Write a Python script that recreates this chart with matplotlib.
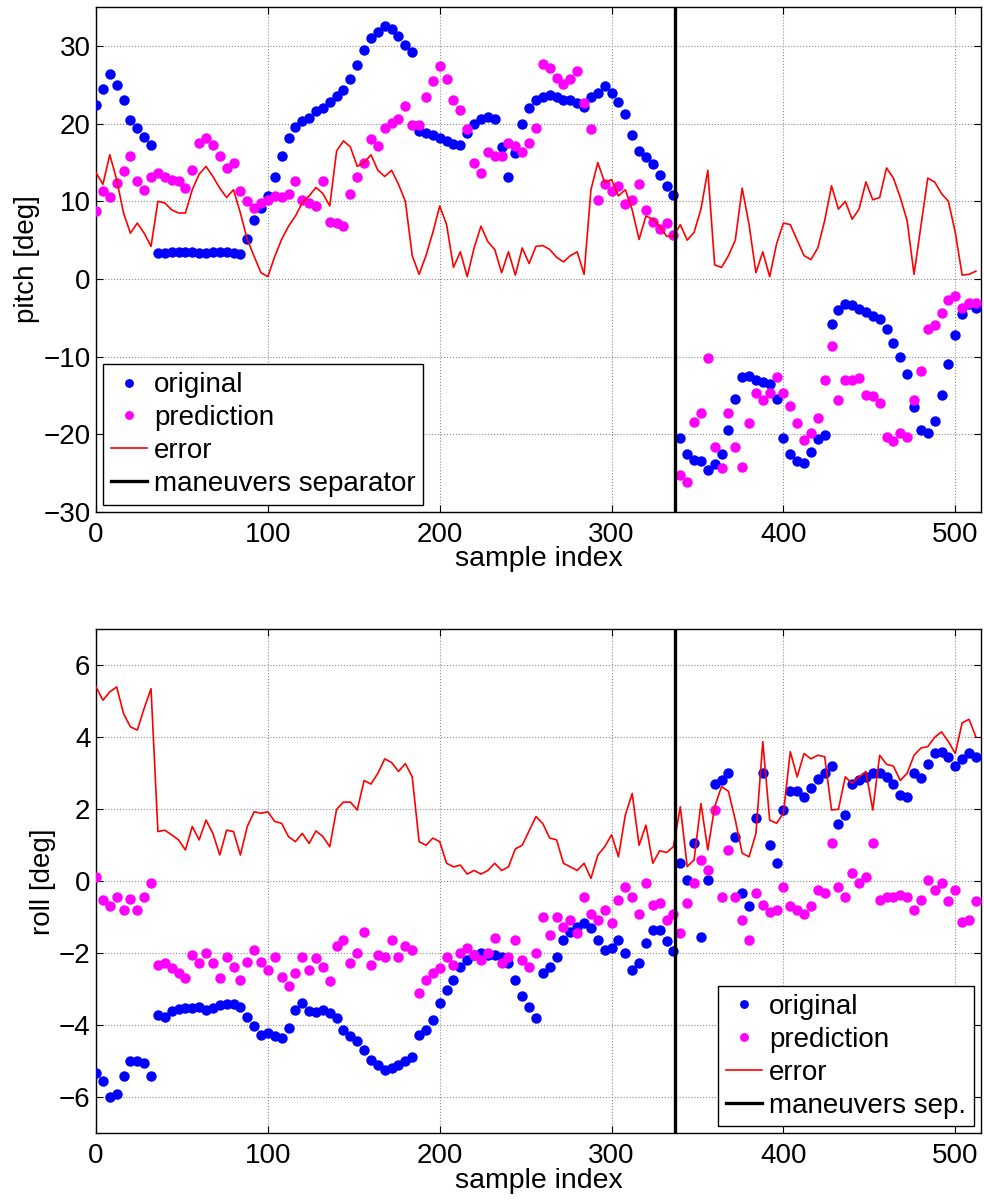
import matplotlib
matplotlib.use('Agg')
import matplotlib.pyplot as plt
import numpy as np

plt.rcParams['font.family'] = ['Liberation Sans', 'DejaVu Sans']

# sample index (every 4th sample)
sample_idx = np.arange(0, 513, 4)
separator = 337

pitch_original = [
    22.4, 24.5, 26.4, 25.0, 23.1, 20.5, 19.4, 18.3, 17.2, 3.3,
    3.4, 3.5, 3.5, 3.5, 3.5, 3.4, 3.4, 3.5, 3.5, 3.5,
    3.4, 3.2, 5.2, 7.6, 9.2, 10.7, 13.2, 15.9, 18.2, 19.6,
    20.3, 20.8, 21.6, 22.0, 22.8, 23.6, 24.4, 25.8, 27.6, 29.5,
    31.0, 31.8, 32.6, 32.2, 31.3, 30.2, 29.3, 19.1, 18.8, 18.5,
    18.2, 17.8, 17.4, 17.3, 18.8, 20.0, 20.6, 20.9, 20.6, 17.0,
    13.2, 16.2, 20.0, 22.0, 23.0, 23.4, 23.7, 23.5, 23.1, 23.0,
    22.7, 22.2, 23.4, 24.0, 24.8, 24.0, 22.8, 21.2, 18.5, 16.5,
    15.7, 14.8, 13.4, 12.0, 10.8, -20.5, -22.6, -23.3, -23.4, -24.6,
    -23.8, -22.5, -19.5, -15.5, -12.6, -12.5, -13.0, -13.3, -13.5, -15.5,
    -20.5, -22.5, -23.5, -23.7, -22.3, -20.6, -20.1, -5.8, -4.0, -3.2,
    -3.4, -3.9, -4.3, -4.8, -5.2, -6.5, -8.3, -10.0, -12.2, -16.5,
    -19.5, -19.8, -18.3, -15.0, -11.0, -7.2, -4.5, -3.2, -3.8,
]

pitch_prediction = [
    8.7, 11.3, 10.5, 12.4, 13.9, 15.8, 12.6, 11.5, 13.2, 13.7,
    13.2, 12.8, 12.6, 11.7, 14.1, 17.5, 18.2, 17.3, 15.8, 14.3,
    15.0, 11.3, 10.0, 9.2, 9.8, 10.2, 10.7, 10.5, 10.9, 12.6,
    10.2, 9.8, 9.4, 12.6, 7.4, 7.2, 6.8, 10.9, 13.2, 15.0,
    18.0, 17.1, 19.5, 20.1, 20.6, 22.3, 19.9, 19.9, 23.4, 25.5,
    27.4, 25.7, 23.1, 21.8, 19.3, 15.0, 13.7, 16.3, 15.8, 15.8,
    17.5, 17.1, 16.3, 17.5, 19.5, 27.7, 27.2, 25.9, 25.1, 25.7,
    26.8, 22.7, 19.3, 10.2, 12.2, 11.3, 12.0, 9.6, 10.2, 12.2,
    8.9, 7.4, 6.4, 7.2, 5.7, -25.2, -26.1, -18.4, -17.3, -10.2,
    -21.6, -24.4, -17.3, -21.6, -24.2, -18.6, -14.7, -15.6, -14.7, -12.6,
    -14.7, -16.4, -18.6, -20.7, -19.9, -17.9, -13.0, -8.7, -15.6, -13.0,
    -13.0, -12.8, -14.9, -15.1, -16.0, -20.3, -20.9, -19.9, -20.3, -15.6,
    -11.9, -6.5, -5.9, -4.4, -2.7, -2.2, -3.7, -3.1, -3.1,
]

pitch_error = [
    13.7, 12.2, 16.0, 12.8, 8.5, 5.9, 7.2, 5.9, 4.2, 10.0,
    9.8, 8.9, 8.5, 8.5, 11.5, 13.5, 14.5, 13.2, 11.7, 10.5,
    11.5, 8.5, 5.1, 2.9, 0.8, 0.3, 2.9, 5.1, 6.8, 8.1,
    9.8, 10.7, 11.8, 11.0, 9.4, 16.5, 17.8, 17.0, 14.5, 15.0,
    16.0, 14.0, 13.2, 14.0, 12.2, 10.0, 3.0, 0.6, 3.0, 6.0,
    9.4, 7.0, 1.5, 3.5, 0.3, 4.0, 6.8, 4.8, 3.8, 0.8,
    3.5, 0.5, 4.0, 2.0, 4.2, 4.3, 3.8, 2.8, 2.2, 3.0,
    3.5, 0.6, 11.5, 15.0, 12.4, 12.8, 10.7, 11.5, 8.9, 5.1,
    8.1, 7.7, 6.8, 5.5, 5.5, 7.0, 5.0, 6.0, 9.0, 14.0,
    1.8, 1.5, 3.0, 5.0, 11.7, 7.0, 0.8, 3.5, 0.3, 4.5,
    7.2, 7.0, 5.0, 3.0, 2.5, 4.0, 7.5, 12.0, 9.0, 10.0,
    7.7, 9.0, 12.5, 10.2, 10.5, 14.3, 13.0, 10.5, 7.5, 0.6,
    6.8, 13.0, 12.5, 11.0, 10.0, 6.0, 0.5, 0.6, 1.0,
]

roll_original = [
    -5.33, -5.56, -6.0, -5.9, -5.4, -5.0, -5.0, -5.05, -5.4, -3.72,
    -3.76, -3.6, -3.54, -3.52, -3.52, -3.48, -3.58, -3.52, -3.43, -3.4,
    -3.4, -3.48, -3.76, -4.03, -4.26, -4.22, -4.31, -4.36, -4.08, -3.57,
    -3.39, -3.6, -3.62, -3.57, -3.66, -3.8, -4.13, -4.31, -4.45, -4.68,
    -4.96, -5.1, -5.24, -5.19, -5.1, -5.0, -4.87, -4.26, -4.13, -3.85,
    -3.39, -3.02, -2.74, -2.37, -2.18, -2.04, -2.0, -2.04, -2.04, -2.09,
    -2.28, -2.74, -3.2, -3.48, -3.8, -2.55, -2.37, -2.09, -1.63, -1.4,
    -1.26, -1.17, -1.3, -1.63, -1.9, -1.86, -1.63, -2.0, -2.46, -2.28,
    -1.72, -1.35, -1.35, -1.67, -1.95, 0.5, 0.04, 1.05, -1.54, 0.04,
    2.7, 2.8, 3.0, 1.24, -0.33, -0.7, 1.75, 3.0, 1.0, 0.5,
    1.98, 2.5, 2.5, 2.35, 2.6, 2.85, 3.0, 3.2, 1.6, 1.84,
    2.7, 2.81, 2.9, 3.0, 3.0, 2.9, 2.7, 2.4, 2.35, 3.0,
    2.86, 3.27, 3.55, 3.6, 3.46, 3.2, 3.4, 3.55, 3.46,
]

roll_prediction = [
    0.13, -0.52, -0.7, -0.43, -0.8, -0.5, -0.8, -0.43, -0.06, -2.32,
    -2.28, -2.41, -2.55, -2.69, -2.04, -2.28, -2.0, -2.28, -2.69, -2.09,
    -2.37, -2.74, -2.23, -1.9, -2.23, -2.46, -2.09, -2.65, -2.92, -2.55,
    -2.09, -2.46, -2.14, -2.37, -2.78, -1.81, -1.63, -2.28, -2.0, -1.4,
    -2.32, -2.04, -2.09, -1.63, -2.09, -1.81, -1.9, -3.1, -2.74, -2.55,
    -2.41, -2.09, -2.32, -2.0, -1.86, -2.04, -2.18, -2.0, -1.58, -2.28,
    -2.09, -1.63, -2.18, -2.37, -2.0, -0.98, -1.49, -0.98, -1.26, -1.07,
    -1.44, -0.43, -0.9, -1.07, -0.8, -1.17, -0.52, -0.15, -0.43, -0.9,
    -0.06, -0.66, -0.61, -1.07, -0.9, -1.44, -0.61, -0.06, 0.59, 0.31,
    1.98, -0.43, 0.87, -0.43, -1.07, -1.63, -0.33, -0.66, -0.84, -0.8,
    -0.15, -0.7, -0.8, -0.9, -0.7, -0.24, -0.33, 1.05, -0.15, -0.43,
    0.22, -0.06, 0.13, 1.05, -0.52, -0.43, -0.43, -0.38, -0.43, -0.8,
    -0.52, 0.04, -0.24, -0.06, -0.56, -0.24, -1.12, -1.07, -0.56,
]

roll_error = [
    5.4, 5.03, 5.26, 5.4, 4.66, 4.29, 4.2, 4.8, 5.35, 1.38,
    1.42, 1.29, 1.15, 0.87, 1.52, 1.15, 1.7, 1.33, 0.73, 1.42,
    1.38, 0.73, 1.52, 1.93, 1.89, 1.93, 1.66, 1.61, 1.24, 1.1,
    1.33, 1.05, 1.4, 1.24, 0.96, 2.0, 2.2, 2.2, 1.98, 2.8,
    2.7, 3.0, 3.4, 3.3, 3.05, 3.27, 2.9, 1.1, 1.0, 1.2,
    1.1, 0.5, 0.4, 0.45, 0.2, 0.3, 0.2, 0.3, 0.5, 0.3,
    0.4, 0.9, 1.0, 1.4, 1.8, 1.6, 1.2, 1.15, 0.5, 0.4,
    0.3, 0.5, 0.08, 0.73, 0.96, 1.29, 0.68, 1.84, 2.44, 1.0,
    1.56, 0.5, 0.85, 0.8, 0.96, 2.07, 0.41, 0.59, 2.16, 0.87,
    2.07, 2.63, 2.5, 1.7, 0.78, 0.68, 1.33, 3.88, 1.7, 1.61,
    1.89, 3.6, 2.9, 3.55, 3.4, 3.5, 3.46, 1.98, 2.0, 2.9,
    2.72, 2.9, 3.05, 1.98, 3.5, 3.25, 3.2, 2.8, 3.0, 3.5,
    3.7, 3.74, 4.0, 4.15, 3.88, 3.55, 4.4, 4.5, 4.01,
]

fig = plt.figure(figsize=(9.84, 12), dpi=100)
ax1 = fig.add_axes([0.0976, 0.5735, 0.8994, 0.4204])
ax2 = fig.add_axes([0.0976, 0.0556, 0.8994, 0.42])


def draw(ax, orig, pred, err, ylabel, ylim, yticks, sep_label, legend_loc):
    ax.plot(sample_idx, orig, 'o', color='#0000ff', ms=7.5, mec='none',
            label='original', zorder=3)
    ax.plot(sample_idx, pred, 'o', color='#ff00ff', ms=7.5, mec='none',
            label='prediction', zorder=3)
    ax.plot(sample_idx, err, '-', color='#ff0000', lw=1.2,
            label='error', zorder=4)
    ax.axvline(separator, color='black', lw=2.4, label=sep_label, zorder=5)
    ax.set_xlim(0, 515)
    ax.set_ylim(*ylim)
    ax.set_xticks(np.arange(0, 501, 100))
    ax.set_yticks(yticks)
    ax.tick_params(direction='in', top=True, right=True, labelsize=20,
                   length=5, width=0.8)
    ax.tick_params(axis='x', pad=7)
    ax.tick_params(axis='y', pad=4)
    ax.grid(True, linestyle=':', color='0.55', linewidth=0.8)
    ax.set_axisbelow(True)
    for sp in ax.spines.values():
        sp.set_linewidth(1.0)
    ax.set_xlabel('sample index', fontsize=20.5, labelpad=-1)
    ax.set_ylabel(ylabel, fontsize=20, labelpad=2)
    leg = ax.legend(loc=legend_loc, fontsize=20, handlelength=1.3,
                    handletextpad=0.25, borderpad=0.28, labelspacing=0.25,
                    borderaxespad=0.25, fancybox=False, framealpha=1,
                    edgecolor='black', markerscale=0.85)
    leg.get_frame().set_linewidth(1.0)
    leg.set_zorder(10)


draw(ax1, pitch_original, pitch_prediction, pitch_error, 'pitch [deg]',
     (-30, 35), np.arange(-30, 31, 10), 'maneuvers separator', 'lower left')
draw(ax2, roll_original, roll_prediction, roll_error, 'roll [deg]',
     (-7, 7), np.arange(-6, 7, 2), 'maneuvers sep.', 'lower right')

fig.savefig('out.png', dpi=100)
